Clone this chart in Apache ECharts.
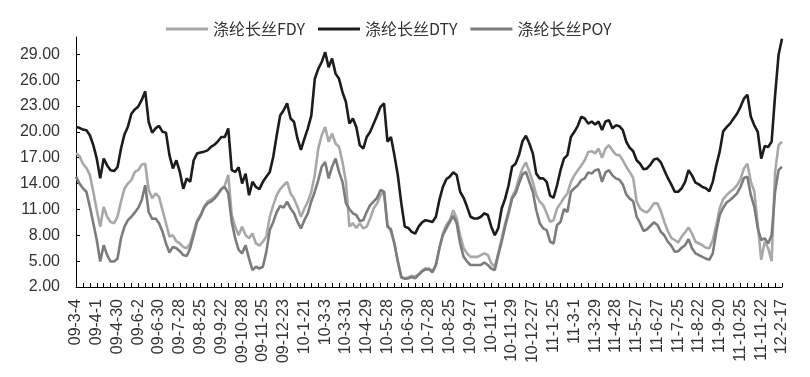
<!DOCTYPE html>
<html lang="zh-CN">
<head>
  <meta charset="utf-8">
  <title>涤纶长丝价差</title>
  <script type="text/javascript" src="https://fastly.jsdelivr.net/npm/echarts@6/dist/echarts.min.js"></script>
  <style type="text/css">
    * {
      margin: 0;
      padding: 0;
    }
    html, body, #chart {
      width: 810px;
      height: 377px;
      overflow: hidden;
      background: #fff;
    }
  </style>
</head>
<body>
  <div id="chart"></div>
  <script type="text/javascript">
    // 横轴标签，每两个标签之间有 6 个数据点
    var dateLabels = ['09-3-4', '09-4-1', '09-4-30', '09-6-2', '09-6-30', '09-7-28', '09-8-25', '09-9-22',
      '09-10-28', '09-11-25', '09-12-23', '10-1-21', '10-3-3', '10-3-31', '10-4-29', '10-5-28',
      '10-6-30', '10-7-28', '10-8-25', '10-9-27', '10-11-1', '10-11-29', '10-12-27', '11-1-25',
      '11-3-1', '11-3-29', '11-4-28', '11-5-27', '11-6-27', '11-7-25', '11-8-22', '11-9-20',
      '11-10-25', '11-11-22', '12-2-17'];
    var yTicks = [2, 5, 8, 11, 14, 17, 20, 23, 26, 29];

    var fdy = [
      17.5, 17.2, 16.3, 15.8, 15.0, 13.05, 10.9, 9.0, 11.3, 10.15,
      9.55, 9.4, 10.15, 11.9, 13.4, 14.0, 14.4, 15.35, 15.55, 16.2,
      16.3, 13.25, 12.3, 12.85, 12.45, 10.9, 9.4, 7.85, 8.0, 7.3,
      7.05, 6.65, 6.5, 7.05, 8.4, 9.75, 10.35, 11.3, 11.9, 12.15,
      12.45, 12.85, 13.4, 13.75, 15.0, 10.35, 9.0, 8.0, 9.0, 8.0,
      7.65, 8.2,
      7.05, 6.8, 7.25, 7.85, 10.15, 11.5, 12.65, 13.35, 13.8, 14.2,
      12.85, 12.25, 11.3, 10.15, 11.1, 11.9, 13.05, 15.0, 18.05, 19.6,
      20.55, 18.85, 19.8, 18.65, 18.25, 16.5, 14.2, 9.0, 9.4, 8.85,
      9.4, 8.8, 9.0, 9.95, 11.1, 11.7, 12.65, 13.05, 9.2, 8.4,
      7.05, 4.95, 3.2, 3.0, 3.1, 3.3, 3.2, 3.5, 3.9, 4.15, 4.15,
      3.85, 4.55, 6.5, 8.2, 9.2, 9.75, 10.9, 9.95, 8.0, 6.5,
      5.9, 5.5, 5.5, 5.5, 5.7, 5.9, 5.7, 4.75, 4.35, 5.9,
      7.65, 9.4, 10.8, 12.45, 13.25, 14.6, 15.75, 16.45, 15.35, 14.2,
      12.65, 11.9, 11.5, 10.55, 9.55, 9.75, 11.1, 11.7, 12.35, 12.85,
      14.2, 14.95, 15.55, 16.1, 16.7, 17.65, 17.75, 17.5, 18.05, 17.0, 18.05,
      18.45, 17.85, 17.35, 17.3, 16.7, 15.95, 15.35, 14.65, 11.9, 11.1,
      10.8, 10.65, 11.1, 11.7, 11.7, 10.8, 9.55, 8.5, 7.7, 7.45,
      7.15, 7.85, 8.35, 8.9, 8.2, 7.25, 7.05, 6.85, 6.55, 6.5,
      7.45, 9.2, 11.1, 12.2, 12.65, 13.05, 13.35, 13.8, 14.5, 15.75,
      16.3, 14.2, 13.1, 9.2, 5.15, 7.25, 6.5, 5.0, 15.3, 18.45, 18.85
    ];
    var dty = [
      20.57, 20.46, 20.26, 20.19, 19.6, 18.45, 16.9, 14.6, 16.9, 16.1,
      15.55, 15.45, 15.9, 18.05, 19.7, 20.6, 22.1, 22.6, 22.95, 23.7,
      24.7, 21.15, 19.9, 20.4, 20.7, 20.0, 19.9, 17.3, 15.75, 16.7,
      15.35, 13.4, 14.6, 14.2, 16.7, 17.5, 17.6, 17.7, 17.85, 18.25,
      18.5, 18.9, 19.4, 19.4, 20.4, 15.55, 15.35, 15.9, 14.0, 15.15,
      12.65, 14.2,
      13.6, 13.35, 14.2, 14.8, 15.35, 17.1, 19.6, 21.9, 22.5, 23.3,
      21.55, 21.15, 19.2, 17.9, 19.2, 20.4, 21.9, 26.15, 27.3, 28.1,
      29.25, 27.5, 28.5, 26.75, 26.15, 24.6, 23.45, 20.95, 21.55, 20.55,
      18.45, 18.05, 19.4, 20.0, 20.95, 21.9, 22.9, 23.3, 18.85, 19.4,
      17.3, 14.95, 11.7, 9.0, 8.85, 8.4, 8.2, 9.0, 9.5, 9.75, 9.65,
      9.55, 10.15, 12.1, 13.6, 14.5, 14.8, 15.3, 15.0, 13.05, 12.35,
      11.3, 10.15, 9.95, 9.95, 10.15, 10.55, 10.35, 9.0, 8.0, 8.8,
      11.1, 12.25, 13.8, 15.95, 16.3, 17.3, 18.9, 19.55, 18.65, 17.5,
      15.15, 14.6, 14.6, 14.2, 12.6, 12.35, 13.8, 15.55, 16.9, 17.3,
      19.4, 20.0, 20.7, 21.75, 21.55, 20.95, 21.2, 20.85, 21.2, 20.2, 21.2,
      21.35, 20.4, 20.75, 20.65, 20.2, 18.85, 18.15, 17.75, 16.7, 16.3,
      15.65, 15.75, 16.2, 16.8, 16.9, 16.45, 15.55, 14.65, 13.9, 13.05,
      13.05, 13.45, 14.2, 15.55, 14.95, 14.1, 13.9, 13.6, 13.45, 13.1,
      14.2, 16.1, 17.7, 20.05, 20.55, 20.95, 21.55, 22.1, 22.9, 23.85,
      24.3, 21.75, 20.75, 20.0, 16.9, 18.35, 18.25, 18.85, 24.2, 28.9, 30.8
    ];
    var poy = [
      14.8, 14.0, 13.45, 13.05, 11.3, 9.4, 7.45, 4.95, 6.85, 5.7,
      4.95, 4.95, 5.3, 7.65, 9.0, 9.75, 10.15, 10.65, 11.2, 12.1,
      13.8, 10.7, 9.9, 9.95, 9.4, 8.4, 7.05, 6.0, 6.65, 6.5,
      6.15, 5.7, 5.6, 6.5, 8.0, 9.55, 10.25, 11.2, 11.7, 11.9,
      12.25, 12.75, 13.35, 13.6, 12.85, 9.55, 7.65, 6.3, 5.9, 6.85,
      5.3, 3.95,
      4.35, 4.15, 4.35, 6.1, 8.6, 9.55, 10.7, 11.4, 11.2, 11.9,
      11.1, 10.55, 9.55, 8.8, 9.75, 10.55, 11.95, 13.05, 14.4, 15.95,
      16.5, 14.6, 15.95, 16.9, 15.35, 14.2, 11.7, 11.05, 10.55, 10.35,
      9.65, 9.75, 10.7, 11.5, 11.9, 12.35, 13.25, 13.05, 9.0, 8.7,
      7.05, 4.95, 3.1, 2.95, 3.0, 3.15, 3.0, 3.4, 3.8, 4.05, 4.05,
      3.7, 4.55, 6.5, 8.0, 8.8, 9.55, 10.25, 9.4, 7.05, 5.5,
      4.95, 4.55, 4.55, 4.55, 4.55, 4.85, 4.55, 4.15, 3.95, 5.7,
      7.25, 9.0, 10.55, 12.25, 12.85, 14.0, 15.05, 15.35, 14.2, 13.05,
      10.9, 9.4, 8.8, 8.6, 7.25, 7.05, 9.2, 9.55, 11.05, 10.7,
      13.05, 13.45, 13.8, 14.4, 14.6, 15.3, 15.15, 15.55, 15.65, 14.2, 15.3,
      15.55, 14.95, 14.6, 14.45, 13.9, 12.75, 12.25, 11.95, 10.15, 9.4,
      8.5, 8.7, 9.1, 9.5, 9.2, 8.4, 8.0, 7.25, 6.8, 6.1,
      6.15, 6.55, 6.85, 7.55, 6.5, 5.9, 5.7, 5.5, 5.3, 5.15,
      5.9, 8.4, 10.35, 11.2, 11.8, 12.1, 12.45, 12.85, 13.6, 14.65,
      14.8, 12.65, 11.3, 8.8, 7.45, 7.65, 7.05, 8.0, 13.05, 15.55, 15.95
    ];

    // 每个标签后补 5 个不显示的类目
    var categories = [];
    dateLabels.forEach(function (d, k) {
      categories.push(d);
      if (k < dateLabels.length - 1) {
        for (var j = 1; j < 6; j++) {
          categories.push(d + '+' + j);
        }
      }
    });

    var font = 'Liberation Sans, Arial, sans-serif';
    var cjkFont = 'Noto Sans CJK SC, sans-serif';

    function lineSeries(name, data, color) {
      return {
        name: name,
        type: 'line',
        data: data,
        symbol: 'none',
        animation: false,
        lineStyle: { color: color, width: 2.6 },
        itemStyle: { color: color }
      };
    }

    var option = {
      backgroundColor: '#fff',
      animation: false,
      legend: {
        left: 161,
        top: 16,
        icon: 'rect',
        itemWidth: 42,
        itemHeight: 3,
        itemGap: 13,
        textStyle: { fontSize: 16, color: '#333', fontFamily: cjkFont },
        data: ['涤纶长丝FDY', '涤纶长丝DTY', '涤纶长丝POY']
      },
      grid: { left: 76, right: 28, top: 37, bottom: 90 },
      xAxis: {
        type: 'category',
        boundaryGap: false,
        data: categories,
        axisLine: { lineStyle: { color: '#000', width: 1 } },
        axisTick: { show: true, inside: true, length: 4, interval: 1, lineStyle: { color: '#000' } },
        axisLabel: {
          interval: 5,
          rotate: 90,
          margin: 12,
          color: '#333',
          fontSize: 16,
          fontFamily: font
        },
        splitLine: { show: false }
      },
      yAxis: {
        type: 'value',
        min: 2,
        max: 31,
        interval: 3,
        axisLine: { show: true, lineStyle: { color: '#000', width: 1 } },
        axisTick: { show: true, inside: true, length: 4, customValues: yTicks, lineStyle: { color: '#000' } },
        axisLabel: {
          customValues: yTicks,
          margin: 16,
          color: '#333',
          fontSize: 16,
          fontFamily: font,
          formatter: function (v) { return v.toFixed(2); }
        },
        splitLine: { show: false }
      },
      series: [
        lineSeries('涤纶长丝FDY', fdy, '#a8a8a8'),
        lineSeries('涤纶长丝DTY', dty, '#1c1c1c'),
        lineSeries('涤纶长丝POY', poy, '#7c7c7c')
      ]
    };

    var chart = echarts.init(document.getElementById('chart'), null, { renderer: 'canvas' });
    chart.setOption(option);
  </script>
</body>
</html>
